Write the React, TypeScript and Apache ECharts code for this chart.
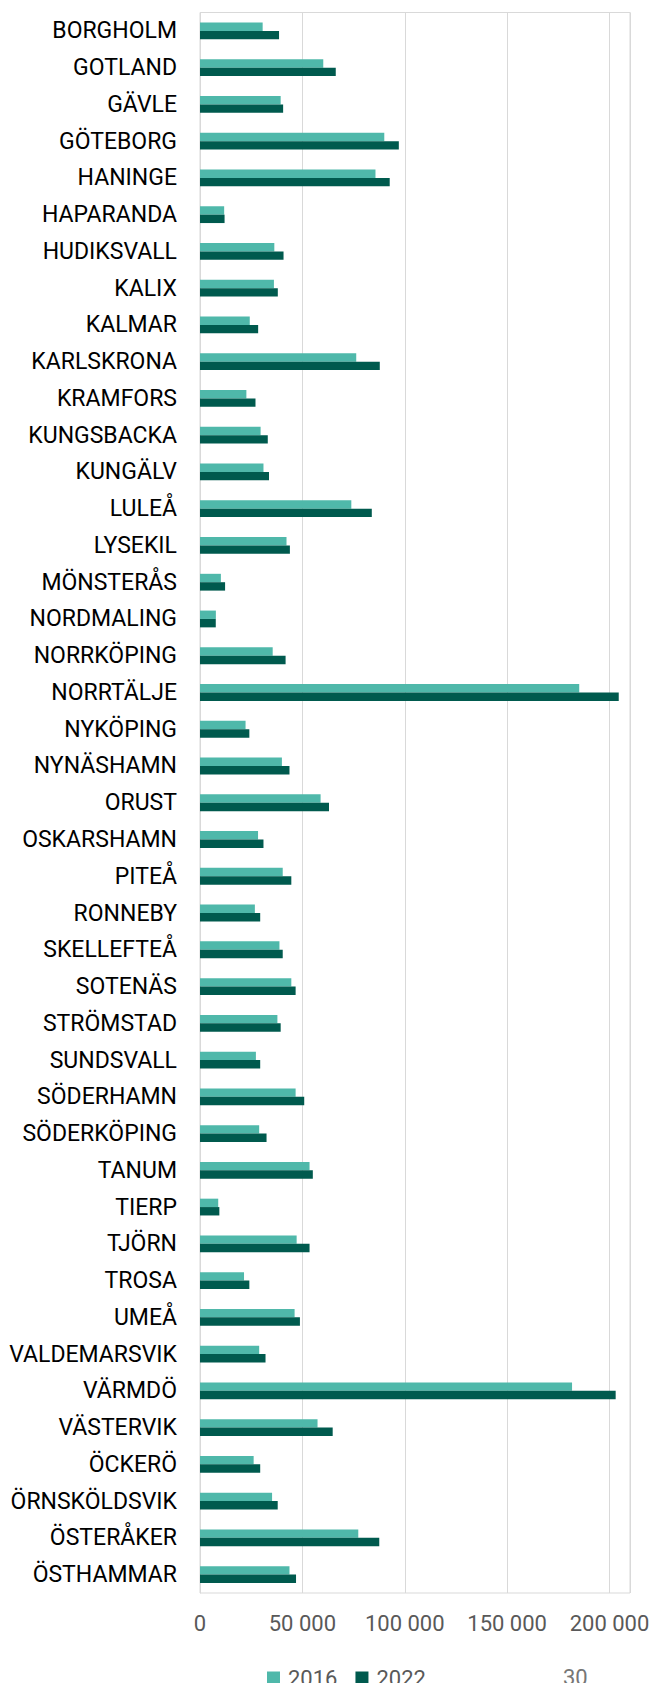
import React, { useEffect, useRef } from "react";
import * as echarts from "echarts";

const categories = [
  "BORGHOLM", "GOTLAND", "GÄVLE", "GÖTEBORG", "HANINGE", "HAPARANDA", "HUDIKSVALL", "KALIX",
  "KALMAR", "KARLSKRONA", "KRAMFORS", "KUNGSBACKA", "KUNGÄLV", "LULEÅ", "LYSEKIL", "MÖNSTERÅS",
  "NORDMALING", "NORRKÖPING", "NORRTÄLJE", "NYKÖPING", "NYNÄSHAMN", "ORUST", "OSKARSHAMN", "PITEÅ",
  "RONNEBY", "SKELLEFTEÅ", "SOTENÄS", "STRÖMSTAD", "SUNDSVALL", "SÖDERHAMN", "SÖDERKÖPING", "TANUM",
  "TIERP", "TJÖRN", "TROSA", "UMEÅ", "VALDEMARSVIK", "VÄRMDÖ", "VÄSTERVIK", "ÖCKERÖ",
  "ÖRNSKÖLDSVIK", "ÖSTERÅKER", "ÖSTHAMMAR",
];

const values2016 = [
  30600, 60200, 39400, 90000, 85700, 11800, 36300, 36100,
  24300, 76300, 22650, 29600, 31000, 73900, 42250, 10200,
  7750, 35500, 185200, 22250, 40000, 58900, 28350, 40400,
  26800, 38800, 44600, 37800, 27300, 46700, 28900, 53500,
  8900, 47200, 21500, 46200, 28900, 181700, 57400, 26200,
  35200, 77300, 43700,
];

const values2022 = [
  38600, 66300, 40600, 97100, 92650, 12000, 40800, 38000,
  28400, 87800, 27100, 33100, 33700, 83900, 43900, 12250,
  7700, 41800, 204500, 24100, 43700, 63000, 31000, 44600,
  29400, 40400, 46700, 39400, 29400, 50900, 32500, 55100,
  9450, 53500, 24100, 48800, 32000, 203000, 64800, 29400,
  37950, 87550, 46900,
];

const seriesNames = ["2016", "2022"];
const colors = ["#4FB8AA", "#005A4E"];

const fmt = (v: number) => String(v).replace(/\B(?=(\d{3})+(?!\d))/g, " ");

export default function App() {
  const ref = useRef<HTMLDivElement>(null);
  useEffect(() => {
    document.body.style.margin = "0";
    const chart = echarts.init(ref.current!, null, { renderer: "svg" });
    const font = "Roboto, 'Liberation Sans', Arial, sans-serif";
    chart.setOption({
      animation: false,
      backgroundColor: "#ffffff",
      textStyle: { fontFamily: font },
      grid: {
        left: 200,
        right: 23,
        top: 12.5,
        bottom: 90,
        show: true,
        borderColor: "#d9d9d9",
        borderWidth: 1,
        containLabel: false,
      },
      legend: {
        data: seriesNames,
        left: 262,
        top: 1662,
        itemWidth: 13,
        itemHeight: 13,
        itemGap: 18,
        icon: "rect",
        textStyle: { fontSize: 22, color: "#595959", fontFamily: font, padding: [0, 0, 0, 3] },
      },
      xAxis: {
        type: "value",
        min: 0,
        max: 210000,
        interval: 50000,
        axisLine: { show: false },
        axisTick: { show: false },
        splitLine: { show: true, lineStyle: { color: "#d9d9d9", width: 1 } },
        axisLabel: {
          fontSize: 22,
          color: "#595959",
          fontFamily: font,
          margin: 19,
          showMaxLabel: false,
          formatter: (v: number) => fmt(v),
        },
      },
      yAxis: {
        type: "category",
        data: categories,
        inverse: true,
        axisLine: { show: true, lineStyle: { color: "#d9d9d9", width: 1 } },
        axisTick: { show: false },
        axisLabel: { fontSize: 23, color: "#000000", fontFamily: font, margin: 23 },
      },
      graphic: [
        {
          type: "text",
          left: 563,
          top: 1666,
          style: { text: "30", fontSize: 22, fill: "#767676", fontFamily: font },
        },
      ],
      series: [
        {
          name: seriesNames[0],
          type: "bar",
          data: values2016,
          barWidth: 8.4,
          barGap: "0%",
          itemStyle: { color: colors[0] },
        },
        {
          name: seriesNames[1],
          type: "bar",
          data: values2022,
          barWidth: 8.4,
          barGap: "0%",
          itemStyle: { color: colors[1] },
        },
      ],
    });
    return () => chart.dispose();
  }, []);
  return (
    <div
      ref={ref}
      style={{ position: "absolute", left: 0, top: 0, width: 653, height: 1683 }}
    />
  );
}
